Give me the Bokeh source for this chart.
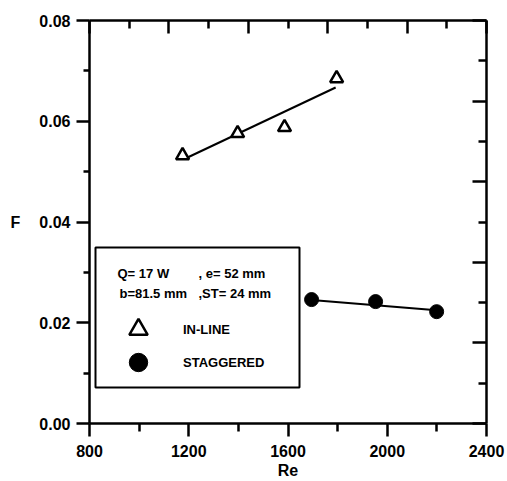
from bokeh.plotting import figure
from bokeh.models import (Range1d, LinearAxis, FixedTicker, Label, BoxAnnotation,
                          Legend, LegendItem, CustomJSTickFormatter)
from bokeh.embed import file_html
from bokeh.resources import INLINE

# ---- data ----
inline_re = [1175, 1397, 1586, 1796]
inline_f = [0.0532, 0.0576, 0.0588, 0.0685]
inline_fit_re = [1195, 1792]
inline_fit_f = [0.0528, 0.0667]

stag_re = [1695, 1953, 2199]
stag_f = [0.0246, 0.0242, 0.0222]
stag_fit_re = [1695, 2199]
stag_fit_f = [0.0245, 0.0225]

x_ticks = [800, 1200, 1600, 2000, 2400]
x_minor = [1000, 1400, 1800, 2200]
y_ticks = [0.00, 0.02, 0.04, 0.06, 0.08]
y_minor = [0.01, 0.03, 0.05, 0.07]
box_ticks = [0, 2, 4, 6, 8, 10]
box_minor = [1, 3, 5, 7, 9]

header_1a = "Q= 17 W"
header_1b = ", e= 52 mm"
header_2a = "b=81.5 mm"
header_2b = ",ST= 24 mm"
series_names = ["IN-LINE", "STAGGERED"]

FONT = "Liberation Sans"

p = figure(width=507, height=481, output_backend="svg", toolbar_location=None,
           x_range=Range1d(800, 2400), y_range=Range1d(0, 0.08),
           min_border_left=89, min_border_right=21, min_border_top=20, min_border_bottom=58)
p.extra_x_ranges = {"top": Range1d(0, 10)}
p.extra_y_ranges = {"right": Range1d(0, 10)}
p.xgrid.visible = False
p.ygrid.visible = False
p.outline_line_color = None
p.background_fill_color = "white"
p.border_fill_color = "white"

def style_axis(ax, ticks, minor, tick_out, tick_in, mtick_out, mtick_in, labels=True):
    ax.ticker = FixedTicker(ticks=ticks, minor_ticks=minor)
    ax.axis_line_width = 2.5
    ax.axis_line_color = "black"
    ax.major_tick_line_width = 2.5
    ax.minor_tick_line_width = 2.5
    ax.major_tick_line_color = "black"
    ax.minor_tick_line_color = "black"
    ax.major_tick_out = tick_out
    ax.major_tick_in = tick_in
    ax.minor_tick_out = mtick_out
    ax.minor_tick_in = mtick_in
    if labels:
        ax.major_label_text_font = FONT
        ax.major_label_text_font_style = "bold"
        ax.major_label_text_font_size = "16px"
        ax.major_label_text_color = "black"
    else:
        ax.formatter = CustomJSTickFormatter(code="return '';")
        ax.major_label_text_font_size = "1px"
        ax.major_label_standoff = 0

xa = p.xaxis[0]
style_axis(xa, x_ticks, x_minor, 13, 0, 8, 0)
xa.major_label_standoff = 8
xa.axis_label = "Re"
xa.axis_label_text_font = FONT
xa.axis_label_text_font_style = "bold"
xa.axis_label_text_font_size = "16px"
xa.axis_label_text_color = "black"
xa.axis_label_standoff = 2

ya = p.yaxis[0]
style_axis(ya, y_ticks, y_minor, 13, 0, 6, 0)
ya.formatter = CustomJSTickFormatter(code="return tick.toFixed(2);")
ya.major_label_standoff = 6
ya.axis_label = "F"
ya.axis_label_orientation = "horizontal"
ya.axis_label_text_font = FONT
ya.axis_label_text_font_style = "bold"
ya.axis_label_text_font_size = "16px"
ya.axis_label_text_color = "black"
ya.axis_label_standoff = 16

top = LinearAxis(x_range_name="top")
style_axis(top, box_ticks, box_minor, 0, 13, 0, 8, labels=False)
p.add_layout(top, "above")

right = LinearAxis(y_range_name="right")
style_axis(right, box_ticks, box_minor, 0, 14, 0, 8, labels=False)
p.add_layout(right, "right")

# fit lines
p.line(inline_fit_re, inline_fit_f, line_color="black", line_width=2)
p.line(stag_fit_re, stag_fit_f, line_color="black", line_width=2)

# data points
r_in = p.scatter(inline_re, inline_f, marker="triangle", size=13, fill_color="white",
                 line_color="black", line_width=2.5)
r_st = p.scatter(stag_re, stag_f, marker="circle", size=14, fill_color="black",
                 line_color="black", line_width=1)

# legend box
box = BoxAnnotation(left=6, right=210, bottom=36, top=176,
                    left_units="screen", right_units="screen",
                    bottom_units="screen", top_units="screen",
                    fill_color=None, fill_alpha=0, line_color="black",
                    line_alpha=1, line_width=2)
p.add_layout(box)

for txt, x, y in [(header_1a, 28, 150), (header_1b, 109, 150),
                  (header_2a, 30, 130), (header_2b, 109, 130)]:
    p.add_layout(Label(x=x, y=y, x_units="screen", y_units="screen", text=txt,
                       text_font=FONT, text_font_style="bold", text_font_size="13px",
                       text_baseline="middle", text_align="left", text_color="black"))

for name, rend, loc in [(series_names[0], r_in, (26, 71)), (series_names[1], r_st, (26, 38))]:
    lg = Legend(items=[LegendItem(label=name, renderers=[rend])],
                location=loc, orientation="vertical",
                glyph_width=46, glyph_height=46, spacing=0,
                padding=0, margin=0, label_standoff=22,
                border_line_color=None, background_fill_alpha=0,
                label_text_font=FONT, label_text_font_style="bold",
                label_text_font_size="13px", label_text_color="black")
    p.add_layout(lg)

open("out.html", "w").write(file_html(p, INLINE))
